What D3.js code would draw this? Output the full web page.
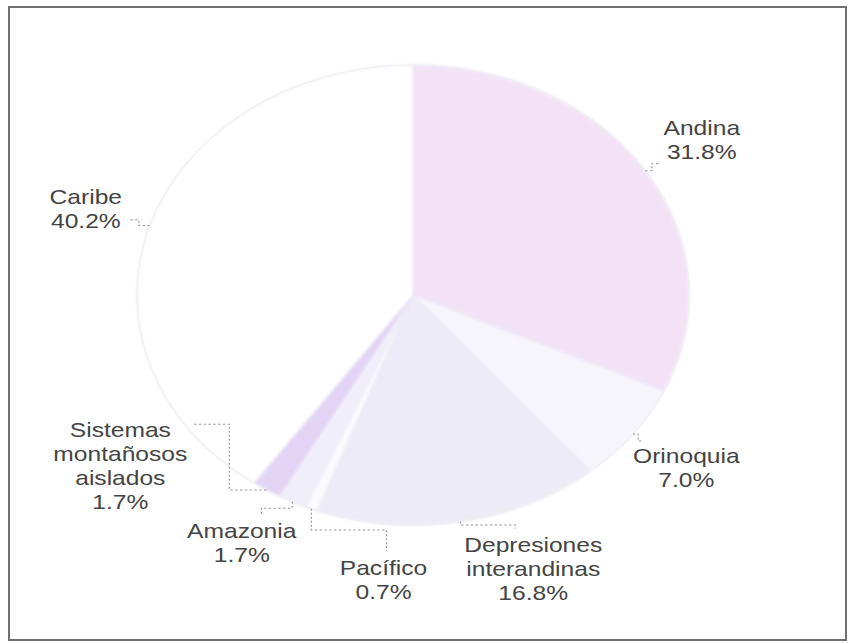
<!DOCTYPE html>
<html>
<head>
<meta charset="utf-8">
<script src="https://cdn.jsdelivr.net/npm/d3@7"></script>
<style>
  html, body { margin: 0; padding: 0; background: #ffffff; }
  svg { display: block; }
</style>
</head>
<body>
<svg id="chart" width="851" height="643"></svg>
<script>
// Regions and their share of the total (%)
const regions = ["Andina", "Orinoquia", "Depresiones interandinas", "Pacífico", "Amazonia", "Sistemas montañosos aislados", "Caribe"];
const shares = [31.8, 7.0, 16.8, 0.7, 1.7, 1.7, 40.2];
const labelLines = [["Andina"], ["Orinoquia"], ["Depresiones", "interandinas"], ["Pacífico"], ["Amazonia"], ["Sistemas", "montañosos", "aislados"], ["Caribe"]];
const sliceColors = ["#f3e2f6", "#f7f5fc", "#eeebf8", "#fbfbfe", "#f0eef9", "#e3d3f5", "#ffffff"];

const W = 851, H = 643;
const cx = 413, cy = 295, sx = 1.2, r = 230;

const svg = d3.select("#chart");

// outer frame
svg.append("rect")
  .attr("x", 9).attr("y", 7).attr("width", 837).attr("height", 633)
  .attr("fill", "#ffffff").attr("stroke", "#707070").attr("stroke-width", 2);

const defs = svg.append("defs");
defs.append("filter").attr("id", "soft")
  .attr("x", "-5%").attr("y", "-5%").attr("width", "110%").attr("height", "110%")
  .append("feGaussianBlur").attr("stdDeviation", 1.4);

const data = regions.map((name, i) => ({ name, value: shares[i], lines: labelLines[i], color: sliceColors[i] }));

const pie = d3.pie().sort(null).value(d => d.value).startAngle(0).endAngle(2 * Math.PI);
const arcs = pie(data);
const arc = d3.arc().innerRadius(0).outerRadius(r);

const g = svg.append("g").attr("transform", `translate(${cx},${cy}) scale(${sx},1)`);

// slices
g.append("g").attr("filter", "url(#soft)")
  .selectAll("path")
  .data(arcs)
  .join("path")
  .attr("d", arc)
  .attr("fill", d => d.data.color)
  .attr("stroke", "#e7e2f1")
  .attr("stroke-width", 0.8)
  .attr("vector-effect", "non-scaling-stroke");

// faint rim of the pie
g.append("path")
  .attr("d", d3.arc().innerRadius(r).outerRadius(r)({ startAngle: 0, endAngle: 2 * Math.PI }))
  .attr("fill", "none")
  .attr("stroke", "#efeff3")
  .attr("stroke-width", 1.2)
  .attr("vector-effect", "non-scaling-stroke");

// label angles: start at slice mid-angles, then spread so labels keep apart
const mid = arcs.map(a => (a.startAngle + a.endAngle) / 2);
const ang = mid.slice();
const minGap = 25 * Math.PI / 180;
for (let it = 0; it < 300; it++) {
  for (let i = 0; i < ang.length - 1; i++) {
    const gap = ang[i + 1] - ang[i];
    if (gap < minGap) {
      const s = (minGap - gap) / 2;
      ang[i] -= s; ang[i + 1] += s;
    }
  }
}

const fmt = d3.format(".1f");
const lineH = 24, fontSize = 20.5;

const labels = g.append("g")
  .attr("font-family", "'Liberation Sans', Arial, sans-serif")
  .attr("font-size", fontSize)
  .attr("fill", "#444444")
  .attr("text-anchor", "middle");

const leaders = g.append("g")
  .attr("fill", "none")
  .attr("stroke", "#999999")
  .attr("stroke-width", 1)
  .attr("stroke-dasharray", "2,2")
  .attr("vector-effect", "non-scaling-stroke");

arcs.forEach((a, i) => {
  const lines = a.data.lines.concat([fmt(a.data.value) + "%"]);
  const n = lines.length;
  const R = r + 44 + 6 * n;
  const t = ang[i];
  const ux = Math.sin(t), uy = -Math.cos(t);
  const lx = R * ux, ly = R * uy;

  const txt = labels.append("text");
  lines.forEach((s, k) => {
    txt.append("tspan")
      .attr("x", lx)
      .attr("y", ly - (n - 1) * lineH / 2 + k * lineH + 7)
      .text(s);
  });
  let maxW = 0;
  txt.selectAll("tspan").each(function () { maxW = Math.max(maxW, this.getComputedTextLength()); });
  const hw = maxW / 2, hh = n * lineH / 2;

  // end of the leader: just outside the label box, on the side facing the pie
  const tb = Math.min(Math.abs(ux) > 1e-6 ? hw / Math.abs(ux) : Infinity,
                      Math.abs(uy) > 1e-6 ? hh / Math.abs(uy) : Infinity);
  const qx = lx - ux * (tb + 5), qy = ly - uy * (tb + 5);

  // start of the leader: slice rim at its mid-angle
  const m = mid[i];
  const px = r * Math.sin(m), py = -r * Math.cos(m);

  let d;
  if (Math.abs(uy) > Math.abs(ux)) {
    const my = (py + qy) / 2;
    d = `M${px},${py}V${my}H${qx}V${qy}`;
  } else {
    const mx = (px + qx) / 2;
    d = `M${px},${py}H${mx}V${qy}H${qx}`;
  }
  leaders.append("path").attr("d", d);
});
</script>
</body>
</html>
